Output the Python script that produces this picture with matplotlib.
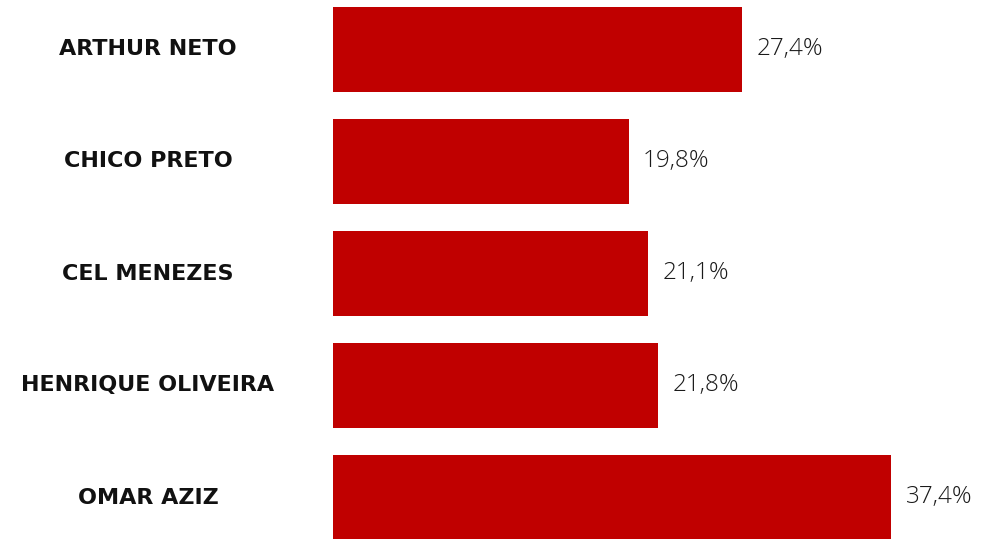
import matplotlib
matplotlib.use("Agg")
import matplotlib.pyplot as plt
from matplotlib.transforms import blended_transform_factory

# data
candidates = ["ARTHUR NETO", "CHICO PRETO", "CEL MENEZES", "HENRIQUE OLIVEIRA", "OMAR AZIZ"]
values = [27.4, 19.8, 21.1, 21.8, 37.4]
value_labels = ["27,4%", "19,8%", "21,1%", "21,8%", "37,4%"]

bar_color = "#C00000"

fig = plt.figure(figsize=(9.88, 5.39), dpi=100)
ax = fig.add_axes([333 / 988, 0, 655 / 988, 1])

pos = list(range(len(candidates)))
ax.barh(pos, values, height=0.76, color=bar_color)

ax.set_xlim(0, 655 / 14.93)
ax.set_ylim((539 - 49.5) / 112, -49.5 / 112)
ax.axis("off")

# value labels to the right of each bar
for p, v, lab in zip(pos, values, value_labels):
    ax.text(v + 0.95, p, lab, va="center", ha="left", fontsize=17.5,
            family="Open Sans", weight="light", color="#1a1a1a")

# candidate names, centred in the left margin
trans = blended_transform_factory(fig.transFigure, ax.transData)
for p, name in zip(pos, candidates):
    ax.text(148 / 988, p, name, transform=trans, ha="center", va="center",
            fontsize=16, family="DejaVu Sans", weight="bold", color="#111111")

fig.savefig("out.png", dpi=100)
